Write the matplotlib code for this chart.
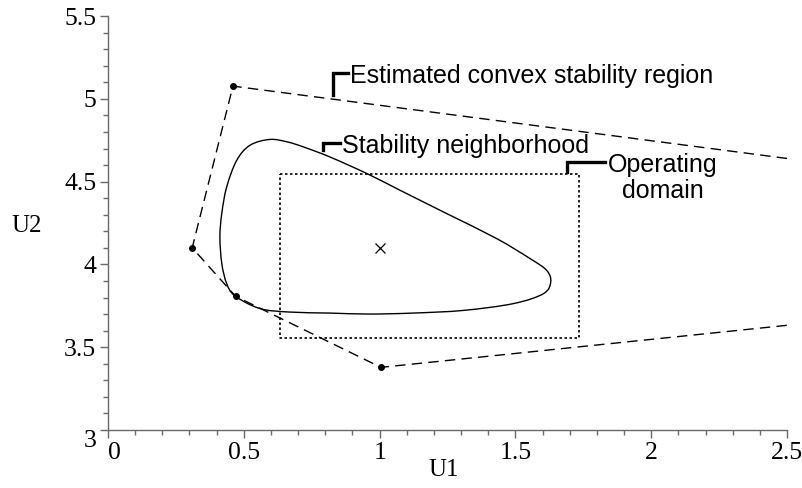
import matplotlib
matplotlib.use("Agg")
import matplotlib.pyplot as plt
import numpy as np
from matplotlib.path import Path
from matplotlib.patches import PathPatch

# estimated convex stability region (vertices, open polygon clipped at x=2.5)
region_u1 = [2.5, 0.46, 0.31, 0.47, 1.005, 2.5]
region_u2 = [4.64, 5.077, 4.10, 3.807, 3.378, 3.632]
vertex_u1 = [0.46, 0.31, 0.47, 1.005]
vertex_u2 = [5.077, 4.10, 3.807, 3.378]

# stability neighborhood (closed curve, traced points)
nbh_u1 = [0.596, 0.660, 0.719, 0.817, 0.953, 1.075, 1.247, 1.431, 1.554,
          1.615, 1.630, 1.603, 1.492, 1.308, 1.124, 0.960, 0.817, 0.670, 0.560,
          0.468, 0.437, 0.419, 0.412, 0.419, 0.437, 0.474, 0.523]
nbh_u2 = [4.755, 4.740, 4.710, 4.649, 4.549, 4.448, 4.307, 4.156, 4.035,
          3.964, 3.894, 3.823, 3.763, 3.722, 3.706, 3.700, 3.706, 3.712, 3.733,
          3.809, 3.884, 4.005, 4.166, 4.309, 4.468, 4.629, 4.720]

# operating domain rectangle
dom_u1 = [0.635, 1.735, 1.735, 0.635, 0.635]
dom_u2 = [4.548, 4.548, 3.553, 3.553, 4.548]

# operating point
op_u1 = [1.003]
op_u2 = [4.097]

xticks = [0, 0.5, 1, 1.5, 2, 2.5]
xtick_labels = ["0", "0.5", "1", "1.5", "2", "2.5"]
yticks = [3, 3.5, 4, 4.5, 5, 5.5]
ytick_labels = ["3", "3.5", "4", "4.5", "5", "5.5"]

axis_grey = "#6a6a6a"
serif = "Liberation Serif"
sans = "Liberation Sans"


def closed_smooth_path(x, y):
    # Catmull-Rom through the traced points, written as cubic Bezier segments
    pts = np.column_stack([x, y])
    n = len(pts)
    verts = [pts[0]]
    codes = [Path.MOVETO]
    for i in range(n):
        p0, p1, p2, p3 = pts[i - 1], pts[i], pts[(i + 1) % n], pts[(i + 2) % n]
        verts += [p1 + (p2 - p0) / 6.0, p2 - (p3 - p1) / 6.0, p2]
        codes += [Path.CURVE4] * 3
    return Path(verts, codes)


fig = plt.figure(figsize=(8.03, 4.88), dpi=100)
ax = fig.add_axes([0.1345, 0.119, 0.8456, 0.848])

ax.plot(region_u1, region_u2, color="black", lw=1.0, dashes=(7.5, 4.5), clip_on=False)
ax.plot(vertex_u1, vertex_u2, "o", color="black", ms=4, zorder=5)
ax.add_patch(PathPatch(closed_smooth_path(nbh_u1, nbh_u2), fill=False,
                       edgecolor="black", lw=1.0))
ax.plot(dom_u1, dom_u2, color="black", lw=1.2, dashes=(1.5, 1.5))
ax.plot(op_u1, op_u2, "x", color="black", ms=7, mew=0.9)

# annotation brackets
ax.plot([0.828, 0.828, 0.884], [5.022, 5.155, 5.155], color="black", lw=2.4,
        solid_joinstyle="miter")
ax.text(0.89, 5.14, "Estimated convex stability region", fontsize=18,
        family=sans, ha="left", va="center")
ax.plot([0.792, 0.792, 0.854], [4.69, 4.732, 4.732], color="black", lw=2.4,
        solid_joinstyle="miter")
ax.text(0.860, 4.718, "Stability neighborhood", fontsize=18,
        family=sans, ha="left", va="center")
ax.plot([1.690, 1.690, 1.830], [4.557, 4.617, 4.617], color="black", lw=2.4,
        solid_joinstyle="miter")
ax.text(2.043, 4.522, "Operating\ndomain", fontsize=18, family=sans,
        ha="center", va="center", linespacing=1.15)

ax.set_xlim(0, 2.5)
ax.set_ylim(3, 5.5)
for side in ("top", "right"):
    ax.spines[side].set_visible(False)
for side in ("left", "bottom"):
    ax.spines[side].set_color(axis_grey)
    ax.spines[side].set_linewidth(1.0)

ax.set_xticks(np.arange(0, 2.51, 0.1), minor=True)
ax.set_yticks(np.arange(3, 5.51, 0.1), minor=True)
ax.set_xticks(xticks, xtick_labels)
ax.set_yticks(yticks, ytick_labels)
ax.tick_params(which="major", direction="out", length=5.5, width=1, color=axis_grey,
               pad=3, labelsize=18.5, labelfontfamily=serif)
ax.tick_params(which="minor", direction="out", length=3.5, width=1, color=axis_grey)
ax.xaxis.get_majorticklabels()[0].set_horizontalalignment("left")
ax.yaxis.get_majorticklabels()[0].set_verticalalignment("top")

fig.text(444 / 803, 1 - 470 / 488, "U1", family=serif, fontsize=18, ha="center", va="center")
fig.text(27 / 803, 1 - 226 / 488, "U2", family=serif, fontsize=18, ha="center", va="center")

fig.savefig("out.png", dpi=100)
